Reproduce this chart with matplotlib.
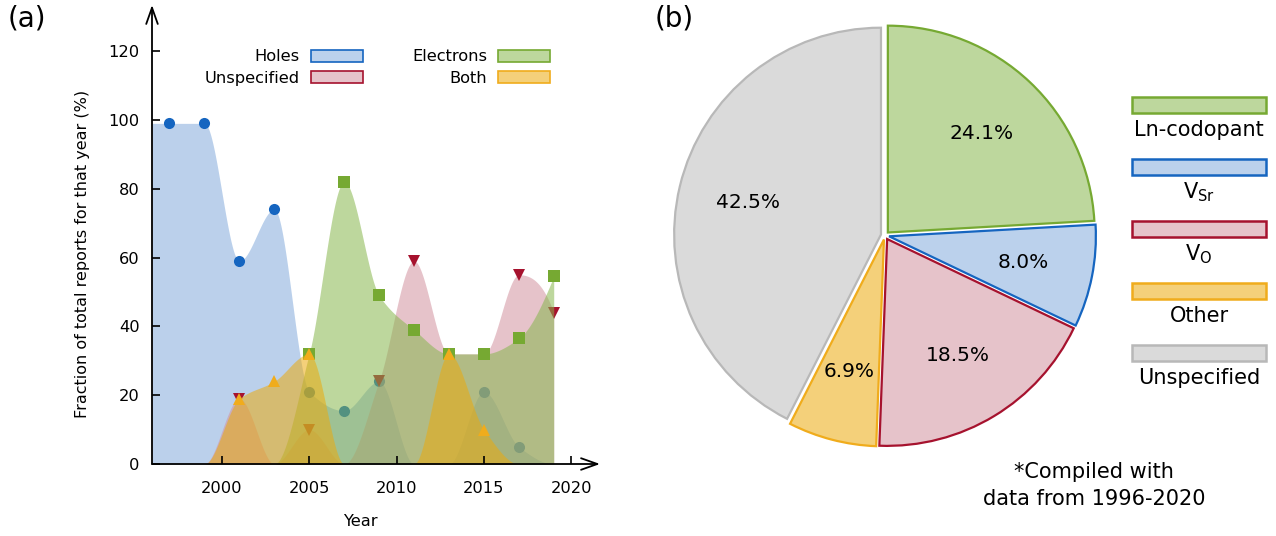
import matplotlib.pyplot as plt
import numpy as np
from matplotlib.patches import Patch, Rectangle

plt.rcParams["font.family"] = ["DejaVu Sans"]
plt.rcParams["mathtext.default"] = "regular"

# ---- data (a): fraction of reports per year (%)
years = np.array([1997, 1999, 2001, 2003, 2005, 2007, 2009, 2011, 2013, 2015, 2017, 2019])
holes = np.array([99, 99, 59, 74, 21, 15.5, 24, 0, 0, 21, 5, 0])
unspecified = np.array([0, 0, 19, 0, 10, 0, 24, 59, 32, 32, 55, 44])
electrons = np.array([0, 0, 0, 0, 32, 82, 49, 39, 32, 32, 36.5, 54.5])
both = np.array([0, 0, 19, 24, 32, 0, 0, 0, 32, 10, 0, 0])

# ---- data (b): pie shares (%)
pie_labels = ["Ln-codopant", r"V$_\mathregular{Sr}$", r"V$_\mathregular{O}$", "Other", "Unspecified"]
pie_shares = [24.1, 8.0, 18.5, 6.9, 42.5]

# colours
BLUE, BLUE_L = "#1565c0", "#bbd1ec"
RED, RED_L = "#a6122e", "#e6c3ca"
GREEN, GREEN_L = "#76a932", "#bdd79d"
ORANGE, ORANGE_L = "#f0ac1c", "#f4d07a"
GREY, GREY_L = "#b8b8b8", "#dadada"
ALPHA = 0.55


def pchip(x, y, xs):
    x = np.asarray(x, float)
    y = np.asarray(y, float)
    h = np.diff(x)
    d = np.diff(y) / h
    n = len(x)
    m = np.zeros(n)
    for k in range(1, n - 1):
        if d[k - 1] * d[k] > 0:
            w1 = 2 * h[k] + h[k - 1]
            w2 = h[k] + 2 * h[k - 1]
            m[k] = (w1 + w2) / (w1 / d[k - 1] + w2 / d[k])

    def end(h0, h1, d0, d1):
        s = ((2 * h0 + h1) * d0 - h0 * d1) / (h0 + h1)
        if np.sign(s) != np.sign(d0):
            return 0.0
        if np.sign(d0) != np.sign(d1) and abs(s) > abs(3 * d0):
            return 3 * d0
        return s

    m[0] = end(h[0], h[1], d[0], d[1])
    m[-1] = end(h[-1], h[-2], d[-1], d[-2])
    idx = np.clip(np.searchsorted(x, xs) - 1, 0, n - 2)
    t = (xs - x[idx]) / h[idx]
    h00 = 2 * t**3 - 3 * t**2 + 1
    h10 = t**3 - 2 * t**2 + t
    h01 = -2 * t**3 + 3 * t**2
    h11 = t**3 - t**2
    return h00 * y[idx] + h10 * h[idx] * m[idx] + h01 * y[idx + 1] + h11 * h[idx] * m[idx + 1]


W, H = 1276, 536
fig = plt.figure(figsize=(W / 100, H / 100), dpi=100)

# ---------------- (a) ----------------
ax = fig.add_axes([152 / W, 1 - 464 / H, 448 / W, 459 / H])
xs = np.linspace(1996, 2019, 800)
series = [
    (holes, "Holes", BLUE, BLUE_L, "o"),
    (unspecified, "Unspecified", RED, RED_L, "v"),
    (electrons, "Electrons", GREEN, GREEN_L, "s"),
    (both, "Both", ORANGE, ORANGE_L, "^"),
]
for i, (vals, name, dark, light, mk) in enumerate(series):
    rgb = np.array([int(light[j:j + 2], 16) for j in (1, 3, 5)]) / 255
    base = np.clip((rgb - (1 - ALPHA)) / ALPHA, 0, 1)
    ys = np.clip(pchip(years, vals, xs), 0, None)
    ax.fill_between(xs, 0, ys, color=base, alpha=ALPHA, lw=0, zorder=1 + 2 * i)
    keep = vals > 0
    ax.plot(years[keep], vals[keep], mk, color=dark, ms=8, mew=0, zorder=2 + 2 * i)

ax.set_xlim(1996, 2021.65)
ax.set_ylim(0, 133.4)
for s in ax.spines.values():
    s.set_visible(False)
arrow = dict(arrowstyle="->, head_length=0.45, head_width=0.16", lw=1.3, color="black",
             shrinkA=0, shrinkB=0, mutation_scale=26)
ax.annotate("", xy=(1, 0), xytext=(0, 0), xycoords="axes fraction", arrowprops=arrow, zorder=20)
ax.annotate("", xy=(0, 1), xytext=(0, 0), xycoords="axes fraction", arrowprops=arrow, zorder=20)
ax.set_xticks([2000, 2005, 2010, 2015, 2020])
ax.set_yticks([0, 20, 40, 60, 80, 100, 120])
ax.tick_params(axis="both", direction="in", length=6, width=1.2, labelsize=11.7)
ax.tick_params(axis="x", pad=12)
ax.tick_params(axis="y", pad=9)
ax.xaxis.set_zorder(30)
ax.yaxis.set_zorder(30)
ax.set_xlabel("Year", fontsize=11.7)
ax.xaxis.set_label_coords(0.466, -0.109)
ax.set_ylabel("Fraction of total reports for that year (%)", fontsize=11.5)
ax.yaxis.set_label_coords(-0.138, 0.4575)

handles = [Patch(facecolor=light, edgecolor=dark, lw=1.2, label=name)
           for vals, name, dark, light, mk in series]
ax.legend(handles=handles, ncol=2, markerfirst=False, frameon=False, fontsize=11.7,
          loc="upper right", bbox_to_anchor=(0.922, 0.935), handlelength=3.2,
          handleheight=0.75, handletextpad=0.7, columnspacing=3.0, labelspacing=0.4)

fig.text(8 / W, 1 - 4 / H, "(a)", fontsize=20, va="top", ha="left")

# ---------------- (b) ----------------
S = 455
ax2 = fig.add_axes([(885 - S / 2) / W, 1 - (235.5 + S / 2) / H, S / W, S / H])
wedges, texts, autotexts = ax2.pie(
    pie_shares, colors=[GREEN_L, BLUE_L, RED_L, ORANGE_L, GREY_L], startangle=90,
    counterclock=False, explode=[0.02] * 5, autopct="%.1f%%", pctdistance=0.66,
    wedgeprops=dict(linewidth=1.6), textprops=dict(fontsize=14.5))
for w, c in zip(wedges, [GREEN, BLUE, RED, ORANGE, GREY]):
    w.set_edgecolor(c)
ax2.set_xlim(-1.1, 1.1)
ax2.set_ylim(-1.1, 1.1)

fig.text(655 / W, 1 - 4 / H, "(b)", fontsize=20, va="top", ha="left")

# pie legend drawn in pixel space
lg = fig.add_axes([0, 0, 1, 1])
lg.set_xlim(0, W)
lg.set_ylim(H, 0)
lg.axis("off")
for i, (lab, dark, light) in enumerate(zip(pie_labels, [GREEN, BLUE, RED, ORANGE, GREY],
                                           [GREEN_L, BLUE_L, RED_L, ORANGE_L, GREY_L])):
    yc = 105 + 62 * i
    lg.add_patch(Rectangle((1132, yc - 8), 134, 16, facecolor=light, edgecolor=dark, lw=1.8))
    lg.text(1199, yc + 31, lab, ha="center", va="baseline", fontsize=15)

lg.text(1094, 478, "*Compiled with", ha="center", va="baseline", fontsize=15)
lg.text(1094, 505, "data from 1996-2020", ha="center", va="baseline", fontsize=15)

fig.savefig("out.png", dpi=100)
